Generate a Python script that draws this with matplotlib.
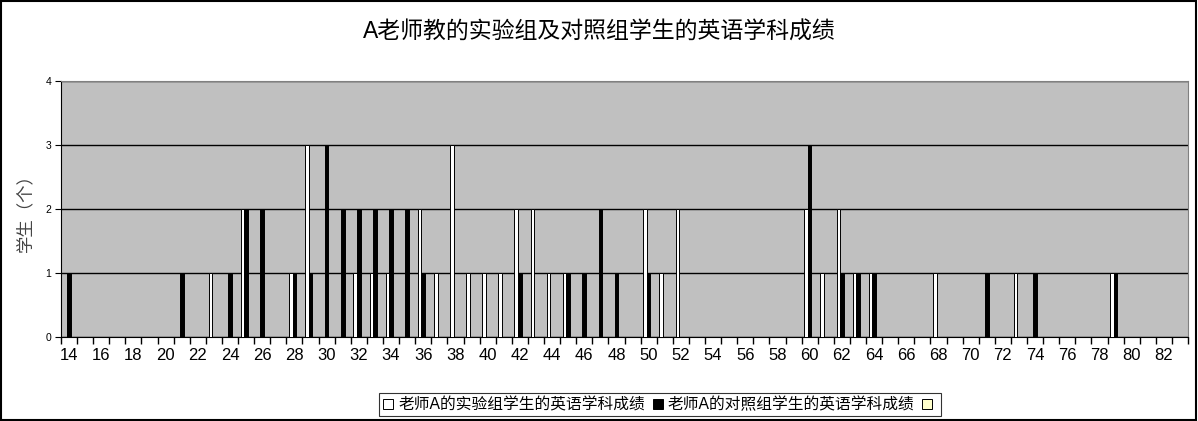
import matplotlib.pyplot as plt
import numpy as np
from matplotlib.patches import Patch, Rectangle

plt.rcParams['font.family'] = ['Liberation Sans', 'Noto Sans CJK SC', 'DejaVu Sans']

# 成绩（分）与人数
scores = np.arange(14, 84)

exp_scores = [23, 25, 28, 29, 32, 33, 34, 36, 37, 38, 39, 40, 41, 42, 43, 44, 45,
              50, 51, 52, 60, 61, 62, 63, 64, 68, 73, 79]
exp_counts = [1, 2, 1, 3, 1, 1, 1, 2, 1, 3, 1, 1, 1, 2, 2, 1, 1,
              2, 1, 2, 2, 1, 2, 1, 1, 1, 1, 1]

ctrl_scores = [14, 21, 24, 25, 26, 28, 29, 30, 31, 32, 33, 34, 35, 36, 42, 45, 46,
               47, 48, 50, 60, 62, 63, 64, 71, 74, 79]
ctrl_counts = [1, 1, 1, 2, 2, 1, 1, 3, 2, 2, 2, 2, 2, 1, 1, 1, 1,
               2, 1, 1, 3, 1, 1, 1, 1, 1, 1]

labels = ['老师A的实验组学生的英语学科成绩', '老师A的对照组学生的英语学科成绩', '']
colors = ['#FFFFFF', '#000000', '#FFFFCC']

exp = np.zeros(len(scores))
ctrl = np.zeros(len(scores))
third = np.zeros(len(scores))
exp[np.searchsorted(scores, exp_scores)] = exp_counts
ctrl[np.searchsorted(scores, ctrl_scores)] = ctrl_counts

fig = plt.figure(figsize=(11.98, 4.21), dpi=100)
ax = fig.add_axes([0.0509, 0.1995, 0.9408, 0.6081])
ax.set_facecolor('#C0C0C0')

w = 1 / 4.5
for i, (vals, c) in enumerate(zip([exp, ctrl, third], colors)):
    mask = vals > 0
    ax.bar(scores[mask] + (i - 1) * w, vals[mask], width=w, color=c,
           edgecolor='black', linewidth=0.7, zorder=3)

ax.set_xlim(13.5, 83.5)
ax.set_ylim(0, 4)
ax.set_yticks(range(5))
ax.yaxis.grid(True, color='black', linewidth=1)
ax.set_axisbelow(True)

# 刻度线在类别之间，标签每隔一个
ax.set_xticks(np.arange(13.5, 84, 1))
ax.set_xticklabels([])
ax.set_xticks(scores[::2], minor=True)
ax.set_xticklabels([str(s) for s in scores[::2]], minor=True, fontsize=12)
ax.tick_params(axis='x', which='major', direction='out', length=5, width=1)
ax.tick_params(axis='x', which='minor', length=0, pad=8)
ax.tick_params(axis='y', direction='out', length=4, labelsize=7.5, pad=3)

for s in ['top', 'right']:
    ax.spines[s].set_color('#808080')
for s in ['left', 'bottom']:
    ax.spines[s].set_color('black')

ax.set_ylabel('学生（个）', fontsize=12.5, color='#444444', labelpad=9)
fig.text(0.5, 0.924, 'A老师教的实验组及对照组学生的英语学科成绩', ha='center', va='center',
         fontsize=16.5)

handles = [Patch(facecolor=c, edgecolor='black', linewidth=0.7) for c in colors]
leg = fig.legend(handles, labels, loc='center', bbox_to_anchor=(0.551, 0.039), ncol=3,
                 fontsize=11.3, frameon=True, fancybox=False, handlelength=0.65,
                 handleheight=0.65, handletextpad=0.3, columnspacing=0.5,
                 borderpad=0.25, borderaxespad=0)
leg.get_frame().set_edgecolor('black')
leg.get_frame().set_linewidth(0.8)

fig.patches.append(Rectangle((0.001, 0.002), 0.997, 0.996, transform=fig.transFigure,
                             fill=False, edgecolor='black', linewidth=1.5))

fig.savefig('out.png', dpi=100)
